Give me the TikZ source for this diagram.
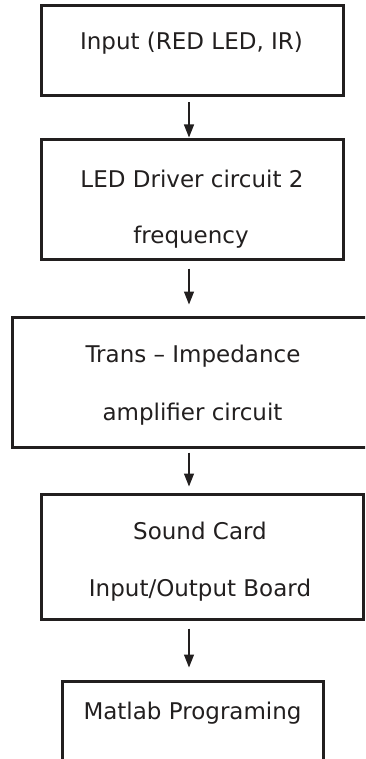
\documentclass[tikz,border=0pt]{standalone}
\usepackage{fontspec}
\setmainfont{DejaVu Sans}
\usetikzlibrary{arrows.meta}
\definecolor{ink}{HTML}{221f1f}
\begin{document}
\begin{tikzpicture}[x=1pt,y=-1pt,
  box/.style={draw=ink,line width=3pt,rectangle,inner sep=0pt},
  lbl/.style={text=ink,font=\fontsize{23}{27}\selectfont,inner sep=0pt,anchor=base},
  arr/.style={draw=ink,line width=1.3pt,-{Triangle[length=13pt,width=10pt]}}]
\useasboundingbox (0,0) rectangle (365,759);
\clip (0,0) rectangle (365,759);
\coordinate (ax) at (189,0);
% boxes
\node[box,minimum width=302pt,minimum height=90pt] (b1) at (192,51) {};
\node[box,minimum width=302pt,minimum height=119pt] (b2) at (192,199.5) {};
\node[box,minimum width=360pt,minimum height=130pt] (b3) at (192,382) {};
\node[box,minimum width=322pt,minimum height=125pt] (b4) at (202,556.5) {};
\node[box,minimum width=261pt,minimum height=100pt] (b5) at (192.5,731) {};
% texts
\node[lbl] (t1) at (191.5,50) {Input (RED LED, IR)};
\node[lbl] (t2a) at (192,188) {LED Driver circuit 2};
\node[lbl] (t2b) at (191,243) {frequency};
\node[lbl] (t3a) at (193,362) {Trans -- Impedance};
\node[lbl] (t3b) at (192.5,420) {amplifier circuit};
\node[lbl] (t4a) at (200,539) {Sound Card};
\node[lbl] (t4b) at (200,596) {Input/Output Board};
\node[lbl] (t5) at (192.5,719) {Matlab Programing};
% arrows
\draw[arr,shorten <=5pt,shorten >=1pt] (b1.south -| ax) -- (b2.north -| ax);
\draw[arr,shorten <=8pt,shorten >=11pt] (b2.south -| ax) -- (b3.north -| ax);
\draw[arr,shorten <=4pt,shorten >=6pt] (b3.south -| ax) -- (b4.north -| ax);
\draw[arr,shorten <=8pt,shorten >=12pt] (b4.south -| ax) -- (b5.north -| ax);
\end{tikzpicture}
\end{document}
